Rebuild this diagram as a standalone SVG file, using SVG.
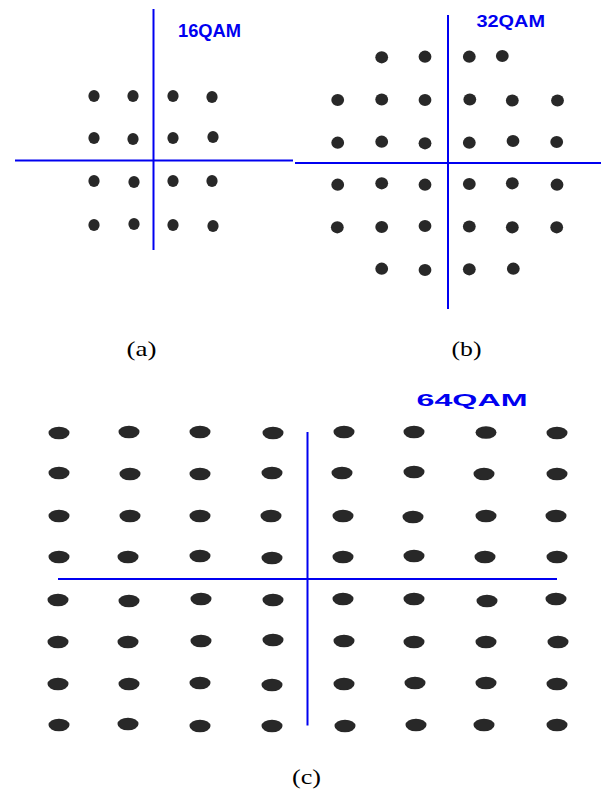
<svg xmlns="http://www.w3.org/2000/svg" xmlns:xlink="http://www.w3.org/1999/xlink" width="601" height="789" viewBox="0 0 601 789">
<style>
.ax{stroke:#0000f0;stroke-width:2;fill:none}
.dot{fill:#282828}
.ttl{font-family:"Liberation Sans",Arial,sans-serif;font-weight:bold;fill:#0000f0}
.cap{font-family:"Liberation Serif","Times New Roman",serif;fill:#000;text-anchor:middle}
</style>
<defs>
<ellipse id="d16" class="dot" cx="0" cy="0" rx="5.6" ry="6"/>
<ellipse id="d32" class="dot" cx="0" cy="0" rx="6.4" ry="6.1"/>
<ellipse id="d64" class="dot" cx="0" cy="0" rx="10.5" ry="6.3"/>
</defs>
<rect width="601" height="789" fill="#fff"/>
<g id="axes">
<line class="ax" x1="153.5" y1="9" x2="153.5" y2="250"/>
<line class="ax" x1="15" y1="160.5" x2="293" y2="160.5"/>
<line class="ax" x1="448" y1="15" x2="448" y2="309"/>
<line class="ax" x1="295" y1="163" x2="601" y2="163"/>
<line class="ax" x1="307.5" y1="432" x2="307.5" y2="725.5"/>
<line class="ax" x1="58" y1="579" x2="557" y2="579"/>
</g>
<g id="qam16">
<text class="ttl" x="178" y="37" font-size="18" textLength="63" lengthAdjust="spacingAndGlyphs">16QAM</text>
<use xlink:href="#d16" x="94" y="96"/><use xlink:href="#d16" x="133" y="96"/><use xlink:href="#d16" x="173" y="96"/><use xlink:href="#d16" x="212" y="97"/>
<use xlink:href="#d16" x="94" y="138"/><use xlink:href="#d16" x="133" y="139"/><use xlink:href="#d16" x="173" y="138"/><use xlink:href="#d16" x="213" y="137"/>
<use xlink:href="#d16" x="94" y="181"/><use xlink:href="#d16" x="134" y="182"/><use xlink:href="#d16" x="173" y="181"/><use xlink:href="#d16" x="212" y="181"/>
<use xlink:href="#d16" x="94" y="225"/><use xlink:href="#d16" x="134" y="224"/><use xlink:href="#d16" x="173" y="225"/><use xlink:href="#d16" x="213" y="226"/>
</g>
<g id="qam32">
<text class="ttl" x="476.5" y="27.3" font-size="17" textLength="68.5" lengthAdjust="spacingAndGlyphs">32QAM</text>
<use xlink:href="#d32" x="381.7" y="57.3"/><use xlink:href="#d32" x="425" y="56.7"/><use xlink:href="#d32" x="469.3" y="56.7"/><use xlink:href="#d32" x="502.3" y="56"/>
<use xlink:href="#d32" x="337.7" y="100"/><use xlink:href="#d32" x="381.7" y="99.5"/><use xlink:href="#d32" x="425" y="100"/><use xlink:href="#d32" x="469.8" y="99.5"/><use xlink:href="#d32" x="512.3" y="100.5"/><use xlink:href="#d32" x="557.5" y="100.5"/>
<use xlink:href="#d32" x="337.7" y="142.7"/><use xlink:href="#d32" x="381.7" y="141.7"/><use xlink:href="#d32" x="425" y="143.3"/><use xlink:href="#d32" x="469.3" y="142.7"/><use xlink:href="#d32" x="513" y="141"/><use xlink:href="#d32" x="556.7" y="142"/>
<use xlink:href="#d32" x="337.7" y="184.7"/><use xlink:href="#d32" x="381.7" y="183.3"/><use xlink:href="#d32" x="425" y="184.7"/><use xlink:href="#d32" x="469.3" y="184"/><use xlink:href="#d32" x="512.3" y="183.3"/><use xlink:href="#d32" x="557" y="184.7"/>
<use xlink:href="#d32" x="337.3" y="227.3"/><use xlink:href="#d32" x="381.7" y="227"/><use xlink:href="#d32" x="425" y="226"/><use xlink:href="#d32" x="469.3" y="226.5"/><use xlink:href="#d32" x="512.3" y="227.3"/><use xlink:href="#d32" x="556.7" y="227.3"/>
<use xlink:href="#d32" x="381.7" y="268.7"/><use xlink:href="#d32" x="425" y="270"/><use xlink:href="#d32" x="469.3" y="269.3"/><use xlink:href="#d32" x="513.3" y="268.7"/>
</g>
<g id="qam64">
<text class="ttl" x="416.5" y="405.7" font-size="17" textLength="111" lengthAdjust="spacingAndGlyphs">64QAM</text>
<use xlink:href="#d64" x="59" y="433"/><use xlink:href="#d64" x="129" y="432"/><use xlink:href="#d64" x="200" y="432"/><use xlink:href="#d64" x="273" y="433"/><use xlink:href="#d64" x="344" y="432"/><use xlink:href="#d64" x="414" y="432"/><use xlink:href="#d64" x="486" y="432.5"/><use xlink:href="#d64" x="557" y="433"/>
<use xlink:href="#d64" x="59" y="473"/><use xlink:href="#d64" x="130" y="474"/><use xlink:href="#d64" x="200" y="474"/><use xlink:href="#d64" x="272" y="473"/><use xlink:href="#d64" x="342" y="473"/><use xlink:href="#d64" x="414" y="472"/><use xlink:href="#d64" x="484" y="474"/><use xlink:href="#d64" x="557" y="474"/>
<use xlink:href="#d64" x="59" y="516"/><use xlink:href="#d64" x="130" y="516"/><use xlink:href="#d64" x="200" y="516"/><use xlink:href="#d64" x="271" y="516"/><use xlink:href="#d64" x="343" y="516"/><use xlink:href="#d64" x="413" y="517"/><use xlink:href="#d64" x="486" y="516"/><use xlink:href="#d64" x="556" y="516"/>
<use xlink:href="#d64" x="59" y="557"/><use xlink:href="#d64" x="128" y="557"/><use xlink:href="#d64" x="200" y="556"/><use xlink:href="#d64" x="272" y="558"/><use xlink:href="#d64" x="343" y="557"/><use xlink:href="#d64" x="414" y="556"/><use xlink:href="#d64" x="485" y="557"/><use xlink:href="#d64" x="557" y="557"/>
<use xlink:href="#d64" x="58" y="600"/><use xlink:href="#d64" x="129" y="601"/><use xlink:href="#d64" x="201" y="599"/><use xlink:href="#d64" x="273" y="600"/><use xlink:href="#d64" x="343" y="599"/><use xlink:href="#d64" x="414" y="599"/><use xlink:href="#d64" x="487" y="601"/><use xlink:href="#d64" x="556" y="599"/>
<use xlink:href="#d64" x="58" y="642"/><use xlink:href="#d64" x="128" y="642"/><use xlink:href="#d64" x="201" y="641"/><use xlink:href="#d64" x="273" y="640"/><use xlink:href="#d64" x="344" y="641"/><use xlink:href="#d64" x="414" y="642"/><use xlink:href="#d64" x="486" y="642"/><use xlink:href="#d64" x="558" y="642"/>
<use xlink:href="#d64" x="58" y="684"/><use xlink:href="#d64" x="129" y="684"/><use xlink:href="#d64" x="200" y="683"/><use xlink:href="#d64" x="272" y="685"/><use xlink:href="#d64" x="344" y="684"/><use xlink:href="#d64" x="415" y="683"/><use xlink:href="#d64" x="486" y="683"/><use xlink:href="#d64" x="557" y="684"/>
<use xlink:href="#d64" x="59" y="725"/><use xlink:href="#d64" x="128" y="724"/><use xlink:href="#d64" x="200" y="726"/><use xlink:href="#d64" x="272" y="726"/><use xlink:href="#d64" x="345" y="726"/><use xlink:href="#d64" x="416" y="725"/><use xlink:href="#d64" x="484" y="725"/><use xlink:href="#d64" x="557" y="725"/>
</g>
<g id="captions">
<text class="cap" x="141.5" y="356" font-size="21" textLength="30" lengthAdjust="spacingAndGlyphs">(a)</text>
<text class="cap" x="466.5" y="356" font-size="21" textLength="30" lengthAdjust="spacingAndGlyphs">(b)</text>
<text class="cap" x="306.5" y="784" font-size="22" textLength="29" lengthAdjust="spacingAndGlyphs">(c)</text>
</g>
</svg>
